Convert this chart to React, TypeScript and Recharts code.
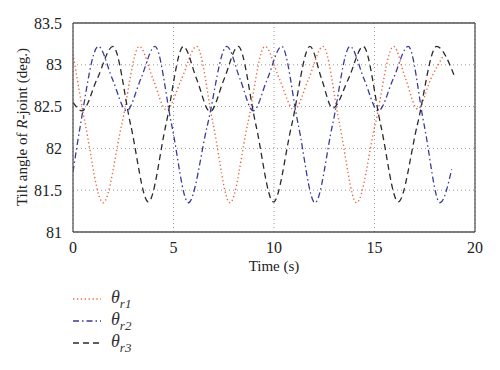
import { LineChart, Line, XAxis, YAxis, CartesianGrid, ReferenceLine } from 'recharts'

// keypoints: extrema plus half-way crossings
const theta1 = [
  [0, 83.13], [0.62, 82.28], [1.5, 81.35], [2.42, 82.28], [3.3, 83.22], [3.98, 82.83],
  [4.65, 82.46], [5.4, 82.83], [6.15, 83.22], [6.98, 82.28], [7.81, 81.35], [8.68, 82.28],
  [9.55, 83.22], [10.27, 82.83], [11.0, 82.46], [11.72, 82.83], [12.44, 83.22], [13.27, 82.28],
  [14.11, 81.35], [15.03, 82.28], [15.95, 83.22], [16.55, 82.83], [17.15, 82.47], [17.8, 82.83],
  [18.45, 83.12],
]
const theta2 = [
  [0, 81.72], [0.37, 82.28], [1.26, 83.22], [1.96, 82.83], [2.67, 82.45], [3.37, 82.83],
  [4.08, 83.22], [4.91, 82.28], [5.74, 81.35], [6.69, 82.28], [7.65, 83.22], [8.31, 82.83],
  [8.97, 82.45], [9.67, 82.83], [10.38, 83.22], [11.21, 82.28], [12.04, 81.35], [12.91, 82.28],
  [13.78, 83.22], [14.48, 82.83], [15.19, 82.45], [15.93, 82.83], [16.68, 83.22], [17.47, 82.28],
  [18.26, 81.35], [18.84, 81.75],
]
const theta3 = [
  [0, 82.55], [0.45, 82.45], [1.2, 82.83], [1.99, 83.22], [2.87, 82.28], [3.75, 81.36],
  [4.62, 82.28], [5.49, 83.22], [6.15, 82.83], [6.82, 82.44], [7.52, 82.83], [8.22, 83.22],
  [9.1, 82.28], [9.97, 81.36], [10.88, 82.28], [11.79, 83.22], [12.37, 82.83], [12.92, 82.48],
  [13.7, 82.83], [14.44, 83.22], [15.31, 82.28], [16.18, 81.36], [17.13, 82.28], [18.09, 83.22],
  [19.0, 82.85],
]
const xTicks = [0, 5, 10, 15, 20]
const yTicks = [81, 81.5, 82, 82.5, 83, 83.5]

const toRows = (pts: number[][]) => pts.map(([t, v]) => ({ t, v }))

const series = [
  { key: 'r1', data: toRows(theta1), color: '#e8653f', dash: '1.3 2.6', width: 1.4 },
  { key: 'r2', data: toRows(theta2), color: '#3a3a9c', dash: '6 3 1.5 3', width: 1.3 },
  { key: 'r3', data: toRows(theta3), color: '#2a2a2a', dash: '6 4', width: 1.3 },
]

const font = 'Liberation Serif, Times New Roman, serif'
const axisColor = '#555'

const XTick = ({ x, y, payload }: any) => (
  <text x={x} y={y + 13} textAnchor="middle" dominantBaseline="central" fontFamily={font} fontSize={16} fill="#222">
    {payload.value}
  </text>
)

const YTick = ({ x, y, payload }: any) => (
  <text x={x - 9} y={y} textAnchor="end" dominantBaseline="central" fontFamily={font} fontSize={16} fill="#222">
    {payload.value}
  </text>
)

const YLabel = () => (
  <text
    x={22}
    y={127}
    transform="rotate(-90 22 127)"
    textAnchor="middle"
    dominantBaseline="central"
    fontFamily={font}
    fontSize={15}
    fill="#222"
  >
    Tilt angle of <tspan fontStyle="italic">R</tspan>-joint (deg.)
  </text>
)

const XLabel = () => (
  <text x={274} y={266} textAnchor="middle" dominantBaseline="central" fontFamily={font} fontSize={15} fill="#222">
    Time (s)
  </text>
)

export default function App() {
  return (
    <div style={{ position: 'absolute', left: 0, top: 0, width: 500, height: 370, background: '#fff', fontFamily: font }}>
      <LineChart width={500} height={290} margin={{ top: 23, right: 25, left: 0, bottom: 20 }}>
        <CartesianGrid stroke="#999" strokeDasharray="1 3" />
        <XAxis
          type="number"
          dataKey="t"
          domain={[0, 20]}
          ticks={xTicks}
          allowDataOverflow
          height={38}
          tick={<XTick />}
          tickSize={0}
          stroke={axisColor}
          strokeWidth={1.3}
          label={<XLabel />}
        />
        <YAxis
          type="number"
          domain={[81, 83.5]}
          ticks={yTicks}
          allowDataOverflow
          width={73}
          tick={<YTick />}
          tickSize={0}
          stroke={axisColor}
          strokeWidth={1.3}
          label={<YLabel />}
        />
        <ReferenceLine y={83.5} stroke={axisColor} strokeWidth={1.3} />
        <ReferenceLine x={20} stroke={axisColor} strokeWidth={1.3} />
        {series.map(s => (
          <Line
            key={s.key}
            data={s.data}
            dataKey="v"
            type="monotone"
            stroke={s.color}
            strokeWidth={s.width}
            strokeDasharray={s.dash}
            dot={false}
            activeDot={false}
            isAnimationActive={false}
          />
        ))}
      </LineChart>
      <div style={{ position: 'absolute', left: 73, top: 288, fontFamily: font, fontSize: 18, color: '#333' }}>
        {series.map(s => (
          <div key={s.key} style={{ display: 'flex', alignItems: 'center', height: 22 }}>
            <svg width={30} height={10} style={{ marginRight: 8 }}>
              <line x1={0} y1={5} x2={28} y2={5} stroke={s.color} strokeWidth={s.width} strokeDasharray={s.dash} />
            </svg>
            <span style={{ fontStyle: 'italic' }}>
              θ<sub style={{ fontSize: 13 }}>{s.key[0]}</sub>
              <sub style={{ fontSize: 13, fontStyle: 'italic' }}>{s.key[1]}</sub>
            </span>
          </div>
        ))}
      </div>
    </div>
  )
}
